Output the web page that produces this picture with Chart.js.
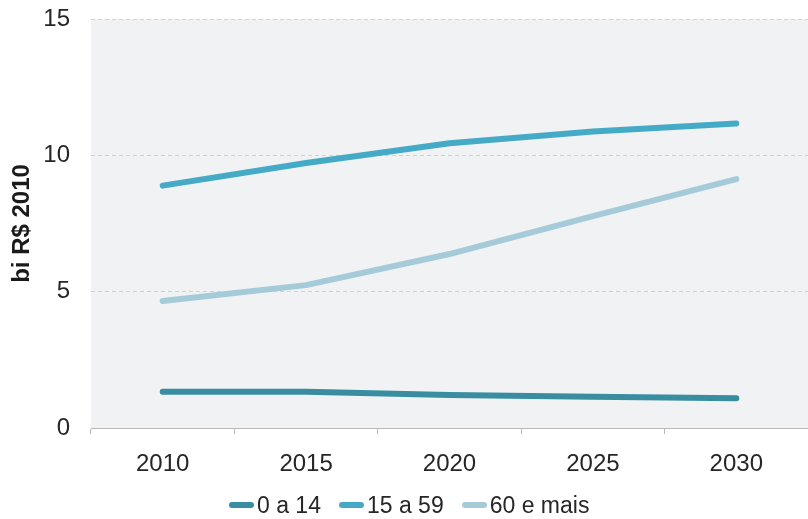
<!DOCTYPE html>
<html>
<head>
<meta charset="utf-8">
<script src="https://cdn.jsdelivr.net/npm/chart.js@4.4.1/dist/chart.umd.min.js"></script>
<style>
  html, body { margin: 0; padding: 0; background: #ffffff; }
  #wrap { position: relative; width: 808px; height: 519px; }
  canvas { display: block; }
  #legend {
    position: absolute; left: 229px; top: 491px; height: 28px;
    display: flex; align-items: center;
    font-family: 'Liberation Sans', Arial, sans-serif; font-size: 23px; color: #262626;
  }
  .item { display: flex; align-items: center; margin-right: 18px; }
  .swatch { width: 25px; height: 6px; border-radius: 3px; margin-right: 3px; }
</style>
</head>
<body>
<div id="wrap">
  <canvas id="c" width="808" height="519"></canvas>
  <div id="legend"></div>
</div>
<script>
// Gasto por faixa etária, em bilhões de R$ de 2010
const years = ['2010', '2015', '2020', '2025', '2030'];
const age0to14 = [1.33, 1.33, 1.21, 1.15, 1.09];
const age15to59 = [8.89, 9.72, 10.44, 10.87, 11.17];
const age60plus = [4.66, 5.24, 6.38, 7.77, 9.13];
const seriesNames = ['0 a 14', '15 a 59', '60 e mais'];
const seriesColors = ['#388da1', '#45aac6', '#a5cbd9'];
const yTicks = [0, 5, 10, 15];

const FONT = "'Liberation Sans', Arial, sans-serif";

const plotBackground = {
  id: 'plotBackground',
  beforeDraw(chart) {
    const { ctx, chartArea: a } = chart;
    ctx.save();
    ctx.fillStyle = '#f1f2f4';
    ctx.fillRect(a.left, a.top, a.right - a.left, a.bottom - a.top);
    ctx.restore();
  }
};

const values = [age0to14, age15to59, age60plus];
const datasets = values.map((v, i) => ({
  label: seriesNames[i],
  data: v,
  borderColor: seriesColors[i],
  backgroundColor: seriesColors[i],
  borderWidth: 6,
  borderCapStyle: 'round',
  borderJoinStyle: 'round',
  pointRadius: 0,
  pointHoverRadius: 0,
  tension: 0,
  fill: false
}));

new Chart(document.getElementById('c'), {
  type: 'line',
  data: { labels: years, datasets },
  plugins: [plotBackground],
  options: {
    responsive: false,
    animation: false,
    layout: { padding: { top: 19, right: 0, bottom: 40, left: 0 } },
    plugins: { legend: { display: false }, tooltip: { enabled: false } },
    scales: {
      x: {
        type: 'category',
        offset: true,
        grid: {
          offset: true,
          drawOnChartArea: false,
          drawTicks: true,
          tickLength: 6,
          color: '#b8b8b8'
        },
        border: { display: true, color: '#b8b8b8', width: 1 },
        ticks: { font: { family: FONT, size: 24 }, color: '#262626', padding: 16, maxRotation: 0 },
        afterFit(scale) {
          scale.height = 51;
          scale.paddingLeft = 0;
          scale.paddingRight = 0;
        }
      },
      y: {
        min: 0,
        max: 15,
        afterBuildTicks(scale) { scale.ticks = yTicks.map(v => ({ value: v })); },
        grid: {
          drawTicks: false,
          color: (c) => c.tick && c.tick.value === 0 ? 'rgba(0,0,0,0)' : '#d2d2d2',
          lineWidth: 1
        },
        border: { display: false, dash: [4, 3] },
        ticks: { font: { family: FONT, size: 24 }, color: '#262626', padding: 21 },
        title: {
          display: true,
          text: 'bi R$ 2010',
          font: { family: FONT, size: 24, weight: 'bold' },
          color: '#1a1a1a',
          padding: { top: 8, bottom: 0 }
        },
        afterFit(scale) {
          scale.width = 91;
          scale.paddingTop = 0;
          scale.paddingBottom = 0;
        }
      }
    }
  }
});

// Legend
const legend = document.getElementById('legend');
seriesNames.forEach((name, i) => {
  const item = document.createElement('div');
  item.className = 'item';
  const sw = document.createElement('span');
  sw.className = 'swatch';
  sw.style.background = seriesColors[i];
  const tx = document.createElement('span');
  tx.textContent = name;
  item.appendChild(sw);
  item.appendChild(tx);
  legend.appendChild(item);
});
</script>
</body>
</html>
